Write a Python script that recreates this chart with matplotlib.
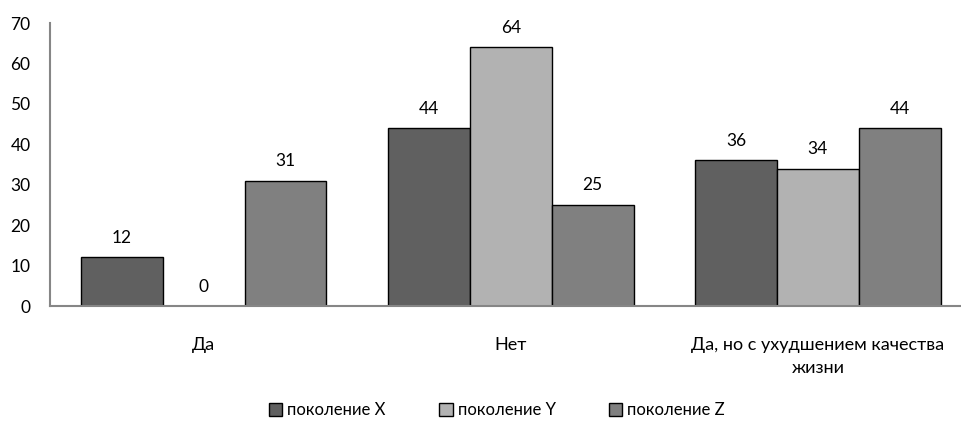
import matplotlib
matplotlib.use("Agg")
import matplotlib.pyplot as plt
import numpy as np

plt.rcParams['font.family'] = ['Lato', 'DejaVu Sans']

categories = ["Да", "Нет", "Да, но с ухудшением качества\nжизни"]
series_names = ["поколение X", "поколение Y", "поколение Z"]
gen_x = [12, 44, 36]
gen_y = [0, 64, 34]
gen_z = [31, 25, 44]
y_ticks = [0, 10, 20, 30, 40, 50, 60, 70]

colors = ["#606060", "#b2b2b2", "#808080"]

W, H = 962, 423
fig = plt.figure(figsize=(W / 100, H / 100), dpi=100)
left, right = 50, 971.5
bottom, top = 306, 23
ax = fig.add_axes([left / W, 1 - bottom / H, (right - left) / W, (bottom - top) / H])

x = np.arange(len(categories))
bw = 1 / 3.75
series = [gen_x, gen_y, gen_z]
handles = []
for i, (vals, name, c) in enumerate(zip(series, series_names, colors)):
    pos = x + (i - 1) * bw
    bars = ax.bar(pos, vals, width=bw, color=c, edgecolor="black", linewidth=1.0,
                  label=name, zorder=2)
    handles.append(bars)
    for p, v in zip(pos, vals):
        ax.annotate(str(v), (p, v), xytext=(0, 14), textcoords="offset points",
                    ha="center", va="center", fontsize=12.5, color="black")

ax.set_xlim(-0.5, 2.5)
ax.set_ylim(0, 70)
ax.set_yticks(y_ticks)
ax.set_yticklabels([str(t) for t in y_ticks], fontsize=12.5)
ax.set_xticks(x)
ax.set_xticklabels(categories, fontsize=13, linespacing=1.55)
ax.tick_params(axis="both", length=0)
ax.tick_params(axis="x", pad=22)
ax.tick_params(axis="y", pad=14)

for s in ["top", "right"]:
    ax.spines[s].set_visible(False)
for s in ["left", "bottom"]:
    ax.spines[s].set_color("#868686")
    ax.spines[s].set_linewidth(1.5)

fig.legend(handles=handles, labels=series_names, loc="center",
           bbox_to_anchor=(497 / W, 1 - 410 / H), ncol=3, frameon=False,
           fontsize=12, handlelength=0.8, handleheight=0.8,
           handletextpad=0.3, columnspacing=3.2)

fig.savefig("out.png", dpi=100)
